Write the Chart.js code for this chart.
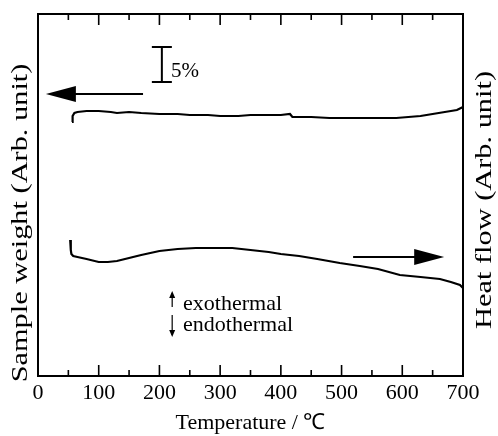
<!DOCTYPE html>
<html>
<head>
<meta charset="utf-8">
<script src="https://cdn.jsdelivr.net/npm/chart.js@4/dist/chart.umd.min.js"></script>
<style>
  body { margin: 0; background: #fff; }
  canvas { display: block; }
</style>
</head>
<body>
<canvas id="myChart" width="498" height="436"></canvas>
<script>
// temperatures (deg C) and the traces, in arbitrary units
const tgTemp = [56, 57, 60, 65, 80, 100, 120, 130, 150, 170, 200, 230, 250, 280, 300, 330, 350, 380, 400, 415, 419, 450, 480, 500, 530, 560, 590, 610, 630, 650, 670, 690, 700];
const tgWeight = [254, 260, 263, 264, 265, 265, 264, 263, 264, 263, 262, 262, 261, 261, 260, 260, 261, 261, 261, 262, 259, 259, 258, 258, 258, 258, 258, 259, 260, 262, 264, 266, 269];

const dtaTemp = [53, 54, 55, 58, 65, 80, 100, 115, 130, 150, 170, 200, 230, 260, 290, 320, 350, 380, 400, 430, 460, 497, 530, 560, 596, 630, 662, 680, 695, 700];
const dtaHeat = [136, 126, 122, 120, 119, 117, 114, 114, 115, 118, 121, 125, 127, 128, 128, 128, 126, 124, 122, 120, 117, 113, 110, 107, 101, 99, 97, 94, 91, 88];

const xTicks = [0, 100, 200, 300, 400, 500, 600, 700];
const xMinorTicks = [50, 150, 250, 350, 450, 550, 650];
const xTickLabels = ['0', '100', '200', '300', '400', '500', '600', '700'];

const serif = '"Liberation Serif", "Times New Roman", serif';

function pts(xs, ys) {
  return xs.map((x, i) => ({ x: x, y: ys[i] }));
}

// frame, inward ticks, y titles and the little arrows / scale bar
const decor = {
  id: 'decor',
  afterDraw(chart) {
    const ctx = chart.ctx;
    const a = chart.chartArea;
    const xs = chart.scales.x;
    const ys = chart.scales.y;
    const X = v => xs.getPixelForValue(v);
    const Y = v => ys.getPixelForValue(v);
    ctx.save();
    ctx.strokeStyle = '#000';
    ctx.fillStyle = '#000';
    ctx.lineWidth = 2;
    ctx.strokeRect(a.left, a.top, a.right - a.left, a.bottom - a.top);

    ctx.lineWidth = 1.6;
    const tick = (v, len) => {
      const x = X(v);
      ctx.beginPath();
      ctx.moveTo(x, a.bottom); ctx.lineTo(x, a.bottom - len);
      ctx.moveTo(x, a.top); ctx.lineTo(x, a.top + len);
      ctx.stroke();
    };
    xTicks.forEach(v => tick(v, 11));
    xMinorTicks.forEach(v => tick(v, 6));

    // y axis titles, both reading upward
    ctx.font = '23px ' + serif;
    ctx.textAlign = 'center';
    ctx.textBaseline = 'middle';
    ctx.save();
    ctx.translate(21, 223);
    ctx.rotate(-Math.PI / 2);
    ctx.scale(1.32, 1);
    ctx.fillText('Sample weight (Arb. unit)', 0, 0);
    ctx.restore();
    ctx.save();
    ctx.translate(485, 200);
    ctx.rotate(-Math.PI / 2);
    ctx.scale(1.32, 1);
    ctx.fillText('Heat flow (Arb. unit)', 0, 0);
    ctx.restore();

    // arrows pointing to each axis
    const arrow = (x1, x2, yv) => {
      const y = Y(yv);
      const px1 = X(x1), px2 = X(x2);
      const dir = Math.sign(px2 - px1);
      ctx.lineWidth = 2;
      ctx.beginPath();
      ctx.moveTo(px1, y); ctx.lineTo(px2 - dir * 20, y);
      ctx.stroke();
      ctx.beginPath();
      ctx.moveTo(px2, y);
      ctx.lineTo(px2 - dir * 30, y - 8);
      ctx.lineTo(px2 - dir * 30, y + 8);
      ctx.closePath();
      ctx.fill();
    };
    arrow(173, 13, 282);
    arrow(519, 669, 119);

    // 5% scale bar
    const bx = X(204);
    ctx.lineWidth = 2;
    ctx.beginPath();
    ctx.moveTo(bx, Y(329)); ctx.lineTo(bx, Y(294));
    ctx.moveTo(bx - 10, Y(329)); ctx.lineTo(bx + 10, Y(329));
    ctx.moveTo(bx - 10, Y(294)); ctx.lineTo(bx + 10, Y(294));
    ctx.stroke();
    ctx.font = '21px ' + serif;
    ctx.textAlign = 'left';
    ctx.fillText('5%', X(219), Y(305));

    // exo / endo arrows
    const ex = X(221);
    ctx.lineWidth = 1.2;
    ctx.beginPath();
    ctx.moveTo(ex, Y(69)); ctx.lineTo(ex, Y(83));
    ctx.moveTo(ex, Y(61)); ctx.lineTo(ex, Y(41));
    ctx.stroke();
    ctx.beginPath();
    ctx.moveTo(ex, Y(85)); ctx.lineTo(ex - 3, Y(78)); ctx.lineTo(ex + 3, Y(78)); ctx.closePath();
    ctx.moveTo(ex, Y(39)); ctx.lineTo(ex - 3, Y(46)); ctx.lineTo(ex + 3, Y(46)); ctx.closePath();
    ctx.fill();
    ctx.font = '22px ' + serif;
    ctx.fillText('exothermal', X(239), Y(72));
    ctx.fillText('endothermal', X(239), Y(51));
    ctx.restore();
  }
};

new Chart(document.getElementById('myChart'), {
  type: 'line',
  data: {
    datasets: [{
      label: 'Sample weight',
      data: pts(tgTemp, tgWeight),
      borderColor: '#000',
      borderWidth: 2.2,
      pointRadius: 0,
      tension: 0,
      yAxisID: 'y'
    }, {
      label: 'Heat flow',
      data: pts(dtaTemp, dtaHeat),
      borderColor: '#000',
      borderWidth: 2.2,
      pointRadius: 0,
      tension: 0,
      yAxisID: 'y2'
    }]
  },
  options: {
    responsive: false,
    animation: false,
    layout: { padding: { top: 14 } },
    plugins: {
      legend: { display: false },
      tooltip: { enabled: false }
    },
    scales: {
      x: {
        type: 'linear',
        min: 0,
        max: 700,
        afterBuildTicks: s => { s.ticks = xTicks.map(v => ({ value: v })); },
        afterFit: s => { s.height = 60; },
        grid: { display: false, drawTicks: false },
        border: { display: false },
        ticks: {
          color: '#000',
          padding: 4,
          font: { family: serif, size: 22 },
          callback: (v, i) => xTickLabels[i]
        },
        title: {
          display: true,
          text: 'Temperature / ℃',
          color: '#000',
          padding: { top: 0, bottom: 0 },
          font: { family: serif, size: 22 }
        }
      },
      y: {
        position: 'left',
        min: 0,
        max: 362,
        afterFit: s => { s.width = 38; },
        grid: { display: false, drawTicks: false },
        border: { display: false },
        ticks: { display: false }
      },
      y2: {
        position: 'right',
        min: 0,
        max: 362,
        afterFit: s => { s.width = 35; },
        grid: { display: false, drawTicks: false },
        border: { display: false },
        ticks: { display: false }
      }
    }
  },
  plugins: [decor]
});
</script>
</body>
</html>
